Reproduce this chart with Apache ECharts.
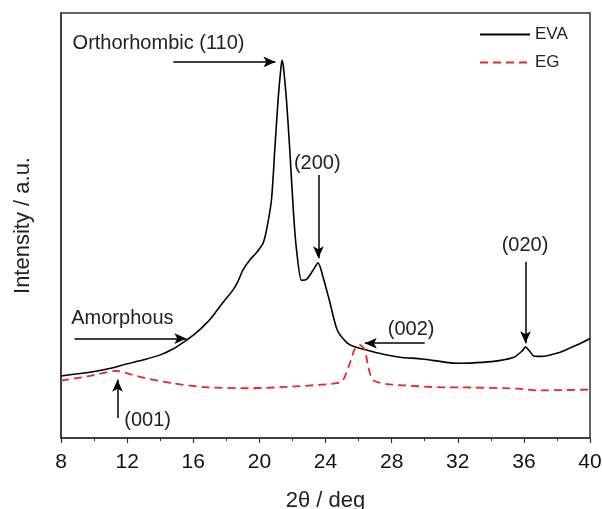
<!DOCTYPE html>
<html><head><meta charset="utf-8">
<script src="https://cdn.jsdelivr.net/npm/echarts@6/dist/echarts.min.js"></script>
<style>html,body{margin:0;padding:0;background:#fff}#c{width:602px;height:509px}</style>
</head><body><div id="c"></div>
<script>
const xTicks = [8, 12, 16, 20, 24, 28, 32, 36, 40];
const evaAngle = [8.0, 9.0, 9.93, 11.0, 11.95, 13.0, 13.97, 14.8, 15.58, 16.1, 16.59, 17.1, 17.6, 18.0, 18.4, 18.7, 19.0, 19.42, 19.8, 20.22, 20.43, 20.73, 20.93, 21.13, 21.3, 21.37, 21.45, 21.64, 21.84, 22.08, 22.25, 22.55, 22.85, 23.25, 23.55, 23.85, 24.26, 24.71, 25.27, 25.67, 26.48, 27.5, 28.5, 29.85, 31.3, 32.17, 33.5, 34.5, 35.4, 35.9, 36.1, 36.35, 36.6, 37.0, 38.2, 39.1, 39.6, 40.0];
const evaValue = [14.6, 15.1, 15.6, 16.4, 17.4, 18.4, 19.5, 21.0, 23.0, 24.5, 26.2, 28.3, 30.9, 32.9, 34.8, 36.8, 39.5, 41.9, 43.5, 45.8, 48.9, 56.0, 67.7, 79.5, 87.0, 88.9, 87.5, 79.5, 67.7, 52.0, 44.2, 37.1, 37.3, 39.5, 41.2, 37.9, 32.0, 25.4, 22.5, 21.6, 20.7, 19.7, 19.0, 18.6, 17.8, 17.6, 17.8, 18.2, 19.0, 20.5, 21.4, 20.4, 19.3, 19.2, 20.2, 21.7, 22.6, 23.4];
const egAngle = [8.0, 9.6, 11.37, 12.2, 13.1, 14.74, 16.6, 19.4, 22.4, 24.7, 25.06, 25.47, 25.77, 26.07, 26.38, 26.58, 26.88, 27.7, 28.7, 31.3, 32.17, 35.65, 36.8, 40.0];
const egValue = [13.5, 14.5, 15.8, 15.0, 14.1, 12.9, 12.0, 11.7, 12.2, 12.9, 13.6, 17.6, 20.9, 21.9, 20.7, 16.8, 13.6, 12.7, 12.4, 11.9, 11.9, 11.6, 11.2, 11.4];
const annoText = ['Orthorhombic (110)', '(200)', 'Amorphous', '(002)', '(020)', '(001)'];
const annoPos = [[8.7, 92.8], [23.5, 64.6], [8.62, 28.1], [27.77, 25.6], [36.07, 45.3], [11.83, 4.2]];
const annoAlign = ['left', 'center', 'left', 'left', 'center', 'left'];
const arrowFrom = [[14.79, 88.5], [23.57, 61.9], [8.82, 23.4], [30.0, 22.3], [36.1, 41.5], [11.42, 4.7]];
const arrowTo = [[20.97, 88.5], [23.57, 42.3], [15.58, 23.4], [26.38, 22.3], [36.1, 22.3], [11.42, 13.7]];

const font = 'Liberation Sans, Arial, sans-serif';
const chart = echarts.init(document.getElementById('c'), null, {renderer: 'canvas'});
chart.setOption({
  animation: false,
  backgroundColor: '#fff',
  grid: {left: 61, right: 12, top: 13, bottom: 71, show: true, borderColor: '#333', borderWidth: 1.5,
    containLabel: false, outerBoundsMode: 'none'},
  legend: {
    orient: 'vertical', left: 479, top: 26, padding: 0, itemWidth: 50, itemHeight: 14, itemGap: 11,
    textStyle: {fontFamily: font, fontSize: 17, color: '#222'},
    itemStyle: {opacity: 0},
    data: ['EVA', 'EG']
  },
  xAxis: {
    type: 'value', min: 8, max: 40, interval: 4,
    name: '2θ / deg', nameLocation: 'middle', nameGap: 52,
    nameTextStyle: {fontFamily: font, fontSize: 22, color: '#222'},
    axisLine: {show: true, lineStyle: {color: '#333', width: 1.5}},
    axisTick: {show: true, inside: false, length: 5, lineStyle: {color: '#333', width: 1.2}},
    minorTick: {show: true, splitNumber: 2, length: 3, lineStyle: {color: '#333', width: 1}},
    axisLabel: {fontFamily: font, fontSize: 21, color: '#111', margin: 14,
      formatter: v => xTicks.includes(v) ? String(v) : ''},
    splitLine: {show: false}
  },
  yAxis: {
    type: 'value', min: 0, max: 100,
    name: 'Intensity / a.u.', nameLocation: 'middle', nameGap: 27,
    nameTextStyle: {fontFamily: font, fontSize: 22, color: '#222'},
    axisLine: {show: true, lineStyle: {color: '#333', width: 1.5}},
    axisTick: {show: false}, axisLabel: {show: false}, splitLine: {show: false}
  },
  series: [
    {
      name: 'EVA', type: 'line', showSymbol: false, symbol: 'none', smooth: 0.25,
      data: evaAngle.map((a, i) => [a, evaValue[i]]),
      lineStyle: {color: '#000', width: 1.6}, itemStyle: {color: '#000'},
      markLine: {
        silent: true, symbol: ['none', 'arrow'], symbolSize: [8, 12], animation: false,
        lineStyle: {color: '#000', width: 1.5, type: 'solid'}, label: {show: false},
        emphasis: {disabled: true},
        data: arrowFrom.map((f, i) => [{coord: f}, {coord: arrowTo[i]}])
      },
      markPoint: {
        silent: true, symbol: 'circle', symbolSize: 0, animation: false,
        data: annoText.map((t, i) => ({
          coord: annoPos[i], value: t,
          label: {show: true, formatter: t, position: annoAlign[i] === 'left' ? 'right' : 'inside', distance: 0,
            fontFamily: font, fontSize: 20, color: '#222'}
        }))
      }
    },
    {
      name: 'EG', type: 'line', showSymbol: false, symbol: 'none', smooth: 0.25,
      data: egAngle.map((a, i) => [a, egValue[i]]),
      lineStyle: {color: '#e8262a', width: 1.8, type: [8, 5]}, itemStyle: {color: '#e8262a'}
    }
  ]
});
</script></body></html>
